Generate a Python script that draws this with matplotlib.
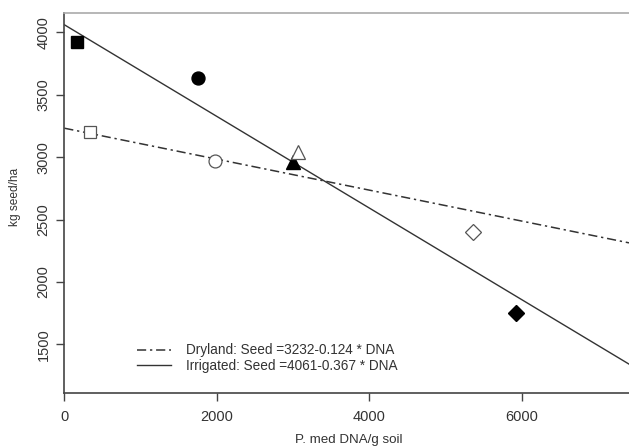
import matplotlib
matplotlib.use("Agg")
import matplotlib.pyplot as plt
import numpy as np

plt.rcParams['font.family'] = ['Liberation Sans', 'DejaVu Sans']

# Data
dna = [167, 1753, 2997, 5924, 337, 1976, 3063, 5360]
seed = [3922, 3634, 2960, 1751, 3201, 2969, 3040, 2400]
markers = ['s', 'o', '^', 'D', 's', 'o', '^', 'D']
filled = [True, True, True, True, False, False, False, False]
sizes = [9, 9.3, 9.5, 8, 9, 9.3, 9.5, 8]

dry_int, dry_slope = 3232, -0.124
irr_int, irr_slope = 4061, -0.367
xticks = [0, 2000, 4000, 6000]
yticks = [1500, 2000, 2500, 3000, 3500, 4000]

W, H = 629, 448
fig = plt.figure(figsize=(W / 100, H / 100), dpi=100)
ax = fig.add_axes([64.3 / W, 55 / H, (W - 64.3) / W, 380 / H])

xlim = (0, 7410)
ylim = (1110, 4155)
xs = np.array(xlim)

ax.plot(xs, dry_int + dry_slope * xs, color='#333333', lw=1.1,
        linestyle=(0, (6, 2.5, 1.5, 2.5)), label='Dryland: Seed =3232-0.124 * DNA')
ax.plot(xs, irr_int + irr_slope * xs, color='#333333', lw=1.0,
        linestyle='-', label='Irrigated: Seed =4061-0.367 * DNA')

for x, y, m, f, s in zip(dna, seed, markers, filled, sizes):
    if f:
        ax.plot(x, y, marker=m, markersize=s, color='black', markeredgecolor='black',
                linestyle='none', zorder=3)
    else:
        ax.plot(x, y, marker=m, markersize=s, markerfacecolor='white',
                markeredgecolor='#555555', markeredgewidth=0.9, linestyle='none', zorder=3)

ax.set_xlim(*xlim)
ax.set_ylim(*ylim)
ax.set_xticks(xticks)
ax.set_yticks(yticks)
ax.tick_params(axis='both', direction='out', length=6, width=1, color='#444444',
               labelsize=10.5, labelcolor='#333333')
ax.tick_params(axis='x', pad=6)
ax.tick_params(axis='y', pad=4)
for lab in ax.get_yticklabels():
    lab.set_rotation(90)
    lab.set_va('center')

for side in ['left', 'bottom']:
    ax.spines[side].set_color('#444444')
    ax.spines[side].set_linewidth(1.2)
ax.spines['top'].set_color('#aaaaaa')
ax.spines['top'].set_linewidth(1.2)
ax.spines['right'].set_visible(False)

ax.set_xlabel('P. med DNA/g soil', fontsize=9.6, color='#333333')
ax.xaxis.set_label_coords((349 - 64.3) / (W - 64.3), -(440 - 393) / 380)
ax.set_ylabel('kg seed/ha', fontsize=8.6, color='#333333')
ax.yaxis.set_label_coords(-(64.3 - 15) / (W - 64.3), (393 - 197) / 380)
ax.xaxis.label.set_va('center')
ax.yaxis.label.set_va('center')

leg = fig.legend(*ax.get_legend_handles_labels(), loc='center left',
                 bbox_to_anchor=(137 / W, 1 - 358 / H), bbox_transform=fig.transFigure,
                 frameon=False, borderpad=0, borderaxespad=0,
                 fontsize=9.8, handlelength=2.5, handletextpad=1.1, labelspacing=0.08,
                 labelcolor='#333333')

fig.savefig('out.png', dpi=100)
